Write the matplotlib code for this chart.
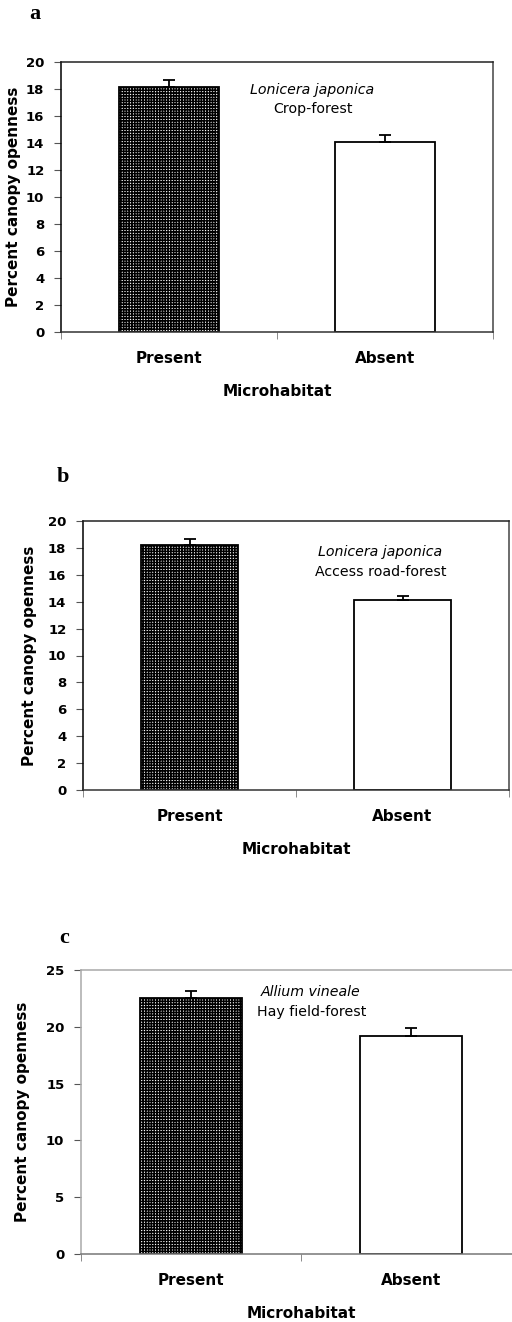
import matplotlib
matplotlib.use("Agg")
import matplotlib.pyplot as plt

plt.rcParams["hatch.linewidth"] = 1.1

categories = ["Present", "Absent"]

# mean percent canopy openness and standard error per site
crop_mean = [18.15, 14.1]
crop_se = [0.5, 0.5]
road_mean = [18.25, 14.15]
road_se = [0.4, 0.3]
hay_mean = [22.55, 19.15]
hay_se = [0.6, 0.75]

species = ["Lonicera japonica", "Lonicera japonica", "Allium vineale"]
sites = ["Crop-forest", "Access road-forest", "Hay field-forest"]
panel_letters = ["a", "b", "c"]

W, H = 512, 1322
fig = plt.figure(figsize=(W / 100, H / 100), dpi=100)


def box(left, right, top, bottom):
    return [left / W, 1 - bottom / H, (right - left) / W, (bottom - top) / H]


def draw_panel(rect, means, ses, ymax, ystep, sp, site, note_xy, frame, ylab_px):
    ax = fig.add_axes(rect)
    xs = [0.5, 1.5]
    bars = ax.bar(xs, means, width=0.46, color="white", edgecolor="black",
                  linewidth=1.3, zorder=2)
    bars[0].set_hatch("++++++")
    ax.errorbar(xs, means, yerr=[[0, 0], ses], fmt="none", ecolor="black",
                elinewidth=1.3, capsize=4.3, capthick=1.3, zorder=3)
    ax.set_xlim(0, 2)
    ax.set_ylim(0, ymax)
    ax.set_yticks(range(0, ymax + 1, ystep))
    ax.set_xticks(xs, categories)
    ax.set_xticks([0, 1, 2], minor=True)
    ax.tick_params(axis="x", which="major", length=0, pad=14, labelsize=11)
    ax.tick_params(axis="x", which="minor", length=5, color="#777777")
    ax.tick_params(axis="y", length=5, pad=7, labelsize=9.5, color="#555555")
    for lab in ax.get_xticklabels() + ax.get_yticklabels():
        lab.set_fontweight("bold")
    ax.set_xlabel("Microhabitat", fontsize=11, fontweight="bold", labelpad=13)
    ax.set_ylabel("Percent canopy openness", fontsize=11, fontweight="bold",
                  va="center")
    # y label centre given in figure pixels
    ax.yaxis.set_label_coords((ylab_px - rect[0] * W) / (rect[2] * W), 0.5)
    for name, col in frame.items():
        ax.spines[name].set_color(col)
        ax.spines[name].set_linewidth(1.1)
    ax.text(note_xy[0], note_xy[1], sp, style="italic", fontsize=10.2,
            ha="center", va="center")
    ax.text(note_xy[0] + 0.005, note_xy[2], site, fontsize=10.2,
            ha="center", va="center")
    return ax


dark = {"left": "black", "bottom": "#333333", "top": "#222222", "right": "#444444"}
light = {"left": "#aaaaaa", "bottom": "#777777", "top": "#a8a8a8", "right": "#a8a8a8"}

draw_panel(box(61, 493, 62, 332), crop_mean, crop_se, 20, 2,
           species[0], sites[0], (1.162, 17.93, 16.52), dark, 14)
draw_panel(box(83, 509, 521, 790), road_mean, road_se, 20, 2,
           species[1], sites[1], (1.394, 17.7, 16.2), dark, 30)
draw_panel(box(81, 521, 970, 1254), hay_mean, hay_se, 25, 5,
           species[2], sites[2], (1.045, 23.06, 21.3), light, 23)

for letter, (px, py) in zip(panel_letters, [(35, 14), (63, 477), (64, 938)]):
    fig.text(px / W, 1 - py / H, letter, family="Liberation Serif",
             fontweight="bold", fontsize=16, ha="center", va="center")

fig.savefig("out.png", dpi=100)
